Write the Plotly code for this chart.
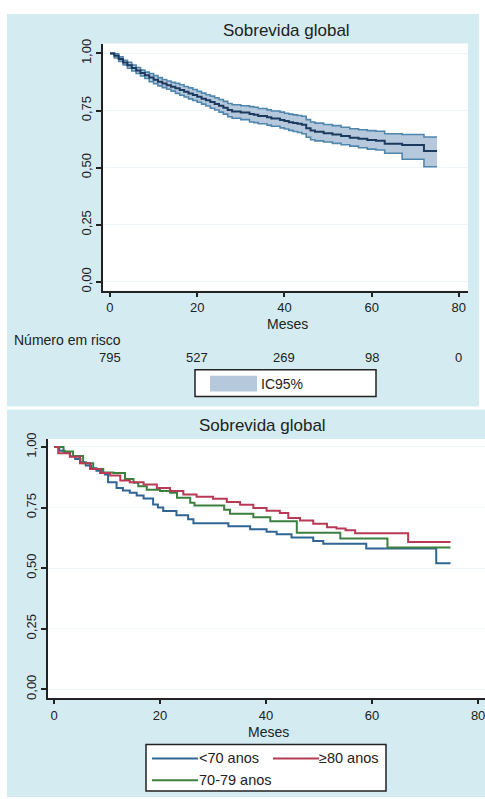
import plotly.graph_objects as go

W, H = 485, 799

# ---------------- data: top panel (overall KM with 95% CI) ----------------
km_time = [0, 1, 2, 3, 4, 5, 6, 7, 8, 9, 10, 11, 12, 13, 14, 15, 16, 17, 18, 19, 20,
           21, 22, 23, 24, 25, 26, 27, 28, 30, 32, 33, 34, 36, 37, 39, 40, 41, 42, 43,
           44, 45, 46, 47, 49, 51, 53, 55, 57, 59, 61, 63, 67, 72, 75]
km_surv = [1.000, 0.990, 0.975, 0.960, 0.948, 0.936, 0.925, 0.914, 0.904, 0.894, 0.885,
           0.876, 0.868, 0.861, 0.854, 0.847, 0.840, 0.832, 0.825, 0.818, 0.810, 0.802,
           0.795, 0.787, 0.779, 0.771, 0.762, 0.752, 0.746, 0.741, 0.735, 0.731, 0.726,
           0.720, 0.715, 0.709, 0.704, 0.699, 0.695, 0.692, 0.688, 0.672, 0.662, 0.657,
           0.651, 0.645, 0.638, 0.631, 0.626, 0.621, 0.618, 0.605, 0.599, 0.573, 0.573]
km_lower = [1.000, 0.980, 0.965, 0.950, 0.935, 0.923, 0.912, 0.901, 0.890, 0.876, 0.867,
            0.858, 0.850, 0.843, 0.835, 0.825, 0.817, 0.809, 0.801, 0.794, 0.786, 0.778,
            0.770, 0.760, 0.752, 0.743, 0.734, 0.723, 0.716, 0.710, 0.700, 0.697, 0.692,
            0.686, 0.681, 0.674, 0.669, 0.663, 0.658, 0.654, 0.648, 0.633, 0.622, 0.617,
            0.612, 0.606, 0.600, 0.594, 0.587, 0.581, 0.577, 0.563, 0.537, 0.504, 0.504]
km_upper = [1.000, 0.998, 0.985, 0.970, 0.961, 0.949, 0.938, 0.927, 0.918, 0.912, 0.903,
            0.894, 0.886, 0.879, 0.873, 0.869, 0.863, 0.855, 0.849, 0.842, 0.834, 0.826,
            0.819, 0.813, 0.806, 0.798, 0.790, 0.781, 0.775, 0.771, 0.767, 0.764, 0.759,
            0.753, 0.748, 0.743, 0.738, 0.734, 0.731, 0.728, 0.725, 0.710, 0.700, 0.695,
            0.689, 0.684, 0.677, 0.670, 0.666, 0.662, 0.659, 0.648, 0.645, 0.634, 0.634]

risk_times = [0, 20, 40, 60, 80]
risk_counts = [795, 527, 269, 98, 0]

# ---------------- data: bottom panel (KM by age group) ----------------
lt70_time = [0, 1, 2, 3, 4, 5, 6, 7, 8, 9, 9.6, 10.2, 11.8, 13, 14.3, 15.6, 16.9, 18.7,
             19.6, 20.6, 23.1, 25.3, 26.3, 32.9, 37, 40.1, 42, 44.8, 48.9, 50.8, 58.9,
             72.1, 74.8]
lt70_surv = [1.000, 0.985, 0.975, 0.962, 0.950, 0.937, 0.924, 0.912, 0.902, 0.893, 0.886,
             0.854, 0.831, 0.820, 0.811, 0.800, 0.787, 0.763, 0.750, 0.736, 0.718, 0.702,
             0.685, 0.673, 0.660, 0.650, 0.640, 0.626, 0.612, 0.601, 0.581, 0.520, 0.520]

ge80_time = [0, 0.8, 3, 4.9, 6.8, 8.7, 10.6, 12.5, 14.3, 16.9, 19.4, 21.9, 24.4, 26.9,
             30, 32.6, 35.1, 37.6, 40.1, 42.6, 44.2, 46.4, 48.9, 51.5, 53.3, 55, 56.8,
             66.8, 74.8]
ge80_surv = [1.000, 0.974, 0.960, 0.933, 0.909, 0.893, 0.882, 0.862, 0.854, 0.845, 0.831,
             0.818, 0.804, 0.795, 0.786, 0.773, 0.762, 0.748, 0.737, 0.728, 0.707, 0.697,
             0.683, 0.669, 0.664, 0.656, 0.644, 0.608, 0.608]

a7079_time = [0, 1.8, 3.6, 5.5, 7.4, 9.3, 11.2, 13.4, 15, 15.9, 17.5, 20, 21.9, 23.2,
              25.7, 26.5, 32.1, 33.2, 37.6, 40.8, 45.8, 54, 62.9, 74.8]
a7079_surv = [1.000, 0.981, 0.963, 0.933, 0.909, 0.895, 0.893, 0.868, 0.852, 0.838, 0.824,
              0.818, 0.811, 0.790, 0.770, 0.758, 0.741, 0.724, 0.710, 0.694, 0.646, 0.622,
              0.585, 0.585]

group_names = ["<70 anos", "≥80 anos", "70-79 anos"]
group_colors = ["#2f6494", "#b83a55", "#3c8040"]

y_tickvals = [0, 0.25, 0.5, 0.75, 1.0]
y_ticktext = ["0,00", "0,25", "0,50", "0,75", "1,00"]
x_tickvals = [0, 20, 40, 60, 80]

FONT = "Liberation Sans, Arial, Helvetica, sans-serif"
TXT = "#222222"
PANEL = "#d4ebf2"
CI_FILL = "#b6c8dc"
CI_EDGE = "#4f86ae"
MAIN = "#1c3a5e"


def px(x):
    return x / W


def py(y):
    return 1 - y / H


fig = go.Figure()

# CI band (top)
fig.add_trace(go.Scatter(x=km_time, y=km_lower, mode="lines", line=dict(color=CI_EDGE, width=1.6, shape="hv"),
                         xaxis="x", yaxis="y", hoverinfo="skip"))
fig.add_trace(go.Scatter(x=km_time, y=km_upper, mode="lines", line=dict(color=CI_EDGE, width=1.6, shape="hv"),
                         fill="tonexty", fillcolor=CI_FILL, xaxis="x", yaxis="y", hoverinfo="skip"))
fig.add_trace(go.Scatter(x=km_time, y=km_surv, mode="lines", line=dict(color=MAIN, width=2, shape="hv"),
                         xaxis="x", yaxis="y"))

# Bottom group curves
for t, s, c in [(lt70_time, lt70_surv, group_colors[0]),
                (a7079_time, a7079_surv, group_colors[2]),
                (ge80_time, ge80_surv, group_colors[1])]:
    fig.add_trace(go.Scatter(x=t, y=s, mode="lines", line=dict(color=c, width=2, shape="hv"),
                             xaxis="x2", yaxis="y2"))

axis_common = dict(showline=True, linecolor=TXT, linewidth=2, ticks="outside",
                   tickwidth=1.5, tickcolor=TXT, zeroline=False, mirror=False,
                   tickfont=dict(family=FONT, size=13, color=TXT))

fig.update_layout(
    width=W, height=H, margin=dict(l=0, r=0, t=0, b=0),
    paper_bgcolor="white", plot_bgcolor="white", showlegend=False,
    font=dict(family=FONT, color=TXT),
    xaxis=dict(domain=[px(103), px(468)], range=[-1.6, 82.1], tickvals=x_tickvals, ticklen=4,
               showgrid=False, anchor="y", ticklabeloverflow="allow", **axis_common),
    yaxis=dict(domain=[py(287), py(37)], range=[-0.039, 1.043], tickvals=y_tickvals, ticklen=5,
               ticktext=y_ticktext, tickangle=-90, showgrid=True, gridcolor="#eef6f9",
               gridwidth=1, anchor="x", **axis_common),
    xaxis2=dict(domain=[px(48), 1.0], range=[-1.13, 81.3], tickvals=x_tickvals, ticklen=4,
                showgrid=False, anchor="y2", ticklabeloverflow="allow", **axis_common),
    yaxis2=dict(domain=[py(699), py(437)], range=[-0.0367, 1.0327], tickvals=y_tickvals, ticklen=5,
                ticktext=y_ticktext, tickangle=-90, showgrid=True, gridcolor="#eef6f9",
                gridwidth=1, anchor="x2", **axis_common),
)

shapes = [
    # panel backgrounds
    dict(type="rect", xref="paper", yref="paper", x0=px(7), x1=px(479), y0=py(404), y1=py(7),
         fillcolor=PANEL, line=dict(width=0), layer="below"),
    dict(type="rect", xref="paper", yref="paper", x0=px(7), x1=1.0, y0=py(799), y1=py(407),
         fillcolor=PANEL, line=dict(width=0), layer="below"),
    # plot areas
    dict(type="rect", xref="paper", yref="paper", x0=px(103), x1=px(468), y0=py(287), y1=py(37),
         fillcolor="white", line=dict(width=0), layer="below"),
    dict(type="rect", xref="paper", yref="paper", x0=px(48), x1=1.0, y0=py(699), y1=py(437),
         fillcolor="white", line=dict(width=0), layer="below"),
    # top legend box
    dict(type="rect", xref="paper", yref="paper", x0=px(195), x1=px(376), y0=py(394), y1=py(367),
         fillcolor="white", line=dict(color=TXT, width=1.5)),
    dict(type="rect", xref="paper", yref="paper", x0=px(210), x1=px(257), y0=py(389), y1=py(373),
         fillcolor=CI_FILL, line=dict(width=0)),
    # bottom legend box
    dict(type="rect", xref="paper", yref="paper", x0=px(146), x1=px(386), y0=py(793), y1=py(746),
         fillcolor="white", line=dict(color=TXT, width=1.5)),
    dict(type="line", xref="paper", yref="paper", x0=px(152), x1=px(198), y0=py(760), y1=py(760),
         line=dict(color=group_colors[0], width=2)),
    dict(type="line", xref="paper", yref="paper", x0=px(273), x1=px(319), y0=py(760), y1=py(760),
         line=dict(color=group_colors[1], width=2)),
    dict(type="line", xref="paper", yref="paper", x0=px(152), x1=px(198), y0=py(782), y1=py(782),
         line=dict(color=group_colors[2], width=2)),
]
fig.update_layout(shapes=shapes)

ann = []


def text(x, y, s, size=14, xanchor="center"):
    ann.append(dict(x=px(x), y=py(y), xref="paper", yref="paper", text=s, showarrow=False,
                    xanchor=xanchor, yanchor="middle", borderpad=0, borderwidth=0,
                    font=dict(family=FONT, size=size, color=TXT)))


text(286, 24, "Sobrevida global", 17)
text(287, 321, "Meses", 14)
text(14, 337, "Número em risco", 14, "left")
text(261, 381, "IC95%", 14, "left")
text(262, 423, "Sobrevida global", 17)
text(268, 733, "Meses", 14)
text(199, 760, group_names[0], 14.5, "left")
text(319, 760, group_names[1], 14.5, "left")
text(199, 782, group_names[2], 14.5, "left")

for t, n in zip(risk_times, risk_counts):
    ann.append(dict(x=t, y=py(354), xref="x", yref="paper", text=str(n), showarrow=False,
                    xanchor="center", yanchor="middle", font=dict(family=FONT, size=13, color=TXT)))

fig.update_layout(annotations=ann)

fig.write_html("out.html", config={"displayModeBar": False},
               post_script="document.body.style.margin='0';document.body.style.overflow='hidden';")
